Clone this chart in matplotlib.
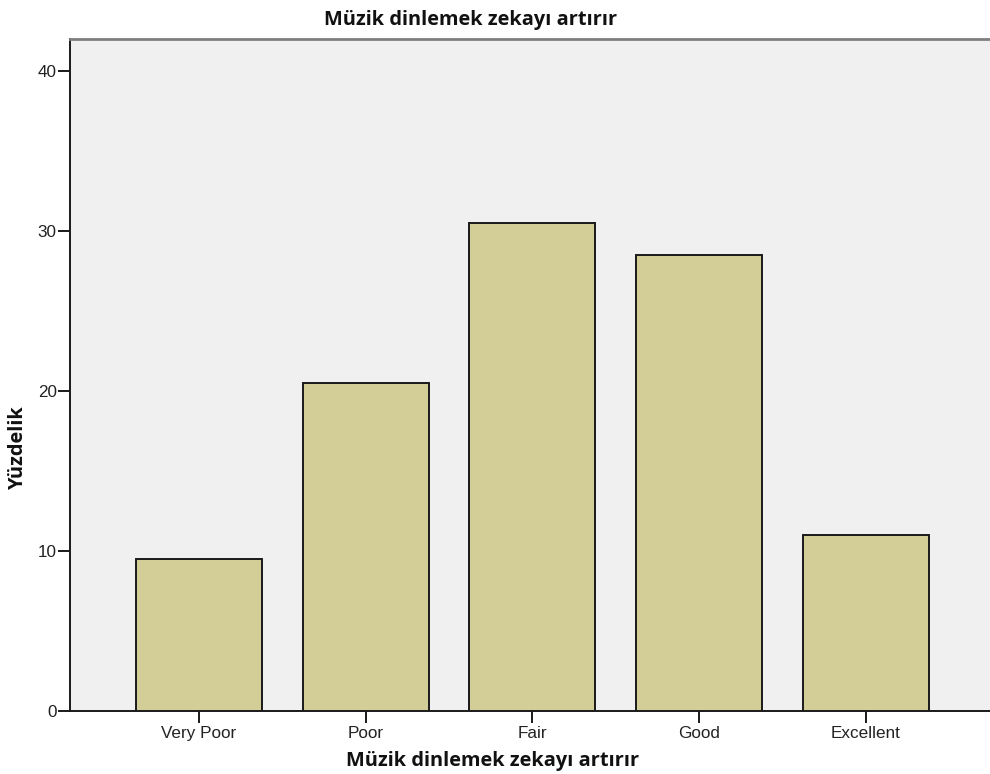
import matplotlib
matplotlib.use("Agg")
import matplotlib.pyplot as plt

categories = ["Very Poor", "Poor", "Fair", "Good", "Excellent"]
percentages = [9.5, 20.5, 30.5, 28.5, 11.0]
y_ticks = [0, 10, 20, 30, 40]
title = "Müzik dinlemek zekayı artırır"
xlabel = "Müzik dinlemek zekayı artırır"
ylabel = "Yüzdelik"

W, H = 990, 774
fig = plt.figure(figsize=(W / 100, H / 100), dpi=100)
ax = fig.add_axes([70 / W, (H - 711) / H, (W - 70) / W + 0.01, (711 - 39) / H])
ax.set_facecolor("#F0F0F0")

x = list(range(len(categories)))
ax.bar(x, percentages, width=0.756, color="#D3CE97", edgecolor="#1a1a1a", linewidth=1.4, zorder=3)

ax.set_xlim(-0.774, 4.744 + 0.06)
ax.set_ylim(0, 42)
ax.set_yticks(y_ticks)
ax.set_xticks(x)
ax.set_xticklabels(categories, fontfamily="Liberation Sans", fontsize=12.3, color="#222222")
ax.set_yticklabels([str(v) for v in y_ticks], fontfamily="Liberation Sans", fontsize=12.3, color="#222222")
ax.tick_params(axis="both", direction="out", length=8.5, width=1.4, color="#1a1a1a")
ax.tick_params(axis="x", pad=2)
ax.tick_params(axis="y", pad=1)

for s in ["left", "bottom"]:
    ax.spines[s].set_color("#1a1a1a")
    ax.spines[s].set_linewidth(1.4)
ax.spines["right"].set_visible(False)
ax.spines["top"].set_color("#7f7f7f")
ax.spines["top"].set_linewidth(2)

fig.text(471 / W, 1 - 20 / H, title, ha="center", va="center", fontsize=14.4,
         fontweight="bold", fontfamily="Open Sans", color="#111111")
fig.text(493 / W, 1 - 761 / H, xlabel, ha="center", va="center", fontsize=14.4,
         fontweight="bold", fontfamily="Open Sans", color="#111111")
fig.text(18 / W, 1 - 447 / H, ylabel, ha="center", va="center", rotation=90, fontsize=14.4,
         fontweight="bold", fontfamily="Open Sans", color="#111111")

fig.savefig("out.png", dpi=100)
